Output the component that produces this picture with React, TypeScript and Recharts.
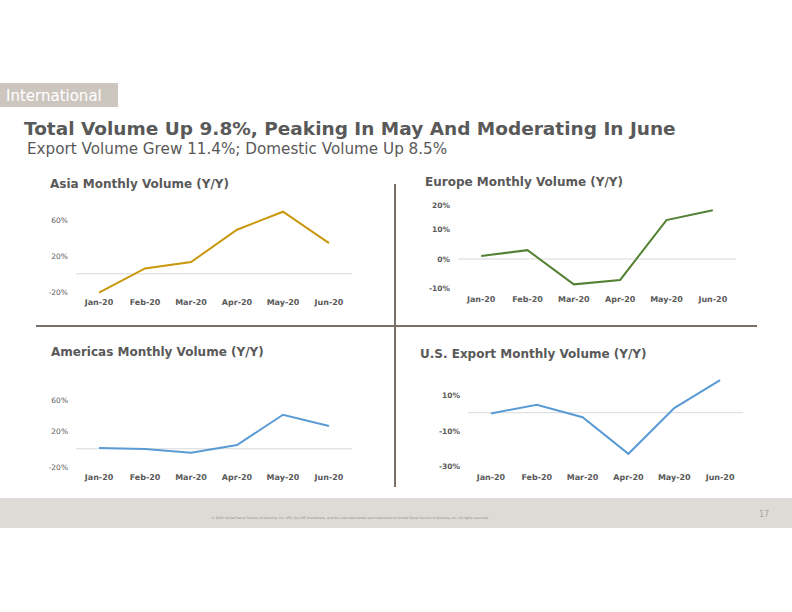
import React from "react";
import { LineChart, Line, XAxis, YAxis, ReferenceLine } from "recharts";

const months = ["Jan-20", "Feb-20", "Mar-20", "Apr-20", "May-20", "Jun-20"];
const asiaValues = [-21, 6, 13, 49, 69, 34];
const europeValues = [1, 3, -8.6, -7.1, 13.2, 16.5];
const americasValues = [0.8, -0.3, -4.5, 4.1, 38, 25.3];
const usExportValues = [-0.4, 4.5, -2.5, -23, 2.6, 18.3];

const FONT = "'DejaVu Sans', Verdana, sans-serif";
const TEXT = "#595959";

type PanelProps = {
  values: number[];
  color: string;
  domain: [number, number];
  ticks: number[];
  plotLeft: number;
  plotRight: number;
  plotTop: number;
  plotBottom: number;
  labelY: number;
  boldY?: boolean;
};

function Panel({ values, color, domain, ticks, plotLeft, plotRight, plotTop, plotBottom, labelY, boldY }: PanelProps) {
  const YW = 40;
  const PAD = 4;
  const data = months.map((m, i) => ({ month: m, v: values[i] }));
  const xh = labelY - plotBottom + 10;
  const width = plotRight - plotLeft + YW + PAD;
  const height = plotBottom - plotTop + PAD + xh;
  const off = labelY - plotBottom;
  return (
    <div style={{ position: "absolute", left: plotLeft - YW, top: plotTop - PAD }}>
      <LineChart width={width} height={height} data={data} margin={{ top: PAD, right: PAD, bottom: 0, left: 0 }}>
        <XAxis
          dataKey="month"
          scale="band"
          axisLine={false}
          tickLine={false}
          tickSize={0}
          tickMargin={0}
          height={xh}
          interval={0}
          tick={(p: any) => (
            <text x={p.x} y={p.y + off + 3} textAnchor="middle" fontFamily={FONT} fontSize={8} fontWeight="bold" fill={TEXT}>
              {p.payload.value}
            </text>
          )}
        />
        <YAxis
          type="number"
          width={YW}
          domain={domain}
          ticks={ticks}
          allowDataOverflow
          axisLine={false}
          tickLine={false}
          tickSize={0}
          tickMargin={0}
          tick={(p: any) => (
            <text x={p.x - 8} y={p.y + 3} textAnchor="end" fontFamily={FONT} fontSize={7.5} fontWeight={boldY ? "bold" : "normal"} fill={TEXT}>
              {p.payload.value}%
            </text>
          )}
        />
        <ReferenceLine y={0} stroke="#d9d9d9" strokeWidth={1} />
        <Line dataKey="v" stroke={color} strokeWidth={2} dot={false} isAnimationActive={false} />
      </LineChart>
    </div>
  );
}

export default function App() {
  return (
    <div style={{ position: "absolute", left: 0, top: 0, width: 792, height: 612, background: "#fff", overflow: "hidden" }}>
      <svg width={792} height={612} style={{ position: "absolute", left: 0, top: 0 }}>
        <rect x={0} y={83} width={118} height={24} fill="#cdc6bf" />
        <text x={6} y={101} fontFamily={FONT} fontSize={15} fill="#fff">International</text>
        <text x={24} y={135} fontFamily={FONT} fontSize={18.5} fontWeight="bold" fill={TEXT}>
          Total Volume Up 9.8%, Peaking In May And Moderating In June
        </text>
        <text x={27} y={154} fontFamily={FONT} fontSize={15.2} fill={TEXT}>
          Export Volume Grew 11.4%; Domestic Volume Up 8.5%
        </text>
        <text x={50} y={188} fontFamily={FONT} fontSize={12} fontWeight="bold" fill={TEXT}>Asia Monthly Volume (Y/Y)</text>
        <text x={425} y={186} fontFamily={FONT} fontSize={12} fontWeight="bold" fill={TEXT}>Europe Monthly Volume (Y/Y)</text>
        <text x={51} y={356} fontFamily={FONT} fontSize={12} fontWeight="bold" fill={TEXT}>Americas Monthly Volume (Y/Y)</text>
        <text x={420} y={358} fontFamily={FONT} fontSize={12} fontWeight="bold" fill={TEXT}>U.S. Export Monthly Volume (Y/Y)</text>
        <line x1={395} y1={184} x2={395} y2={487} stroke="#7a7067" strokeWidth={2} />
        <line x1={36} y1={326} x2={757} y2={326} stroke="#7a7067" strokeWidth={2} />
        <rect x={0} y={498} width={792} height={30} fill="#dedad5" />
        <text x={350} y={519} textAnchor="middle" fontFamily={FONT} fontSize={3.2} fill="#8c8c8c">
          © 2020 United Parcel Service of America, Inc. UPS, the UPS brandmark, and the color dark brown are trademarks of United Parcel Service of America, Inc. All rights reserved.
        </text>
        <text x={764} y={517} textAnchor="middle" fontFamily={FONT} fontSize={8} fill="#a6a6a6">17</text>
      </svg>
      <Panel values={asiaValues} color="#c9980a" domain={[-22, 72]} ticks={[-20, 20, 60]}
        plotLeft={76} plotRight={352} plotTop={209.2} plotBottom={293.8} labelY={302} />
      <Panel values={europeValues} color="#548235" domain={[-10, 20]} ticks={[-10, 0, 10, 20]}
        plotLeft={458} plotRight={736} plotTop={200.3} plotBottom={288.8} labelY={299.5} boldY />
      <Panel values={americasValues} color="#5b9bd5" domain={[-20, 60]} ticks={[-20, 20, 60]}
        plotLeft={76} plotRight={352} plotTop={395} plotBottom={466.7} labelY={476.7} />
      <Panel values={usExportValues} color="#5b9bd5" domain={[-30, 20]} ticks={[-30, -10, 10]}
        plotLeft={468} plotRight={743} plotTop={376.6} plotBottom={465.9} labelY={476.7} boldY />
    </div>
  );
}
